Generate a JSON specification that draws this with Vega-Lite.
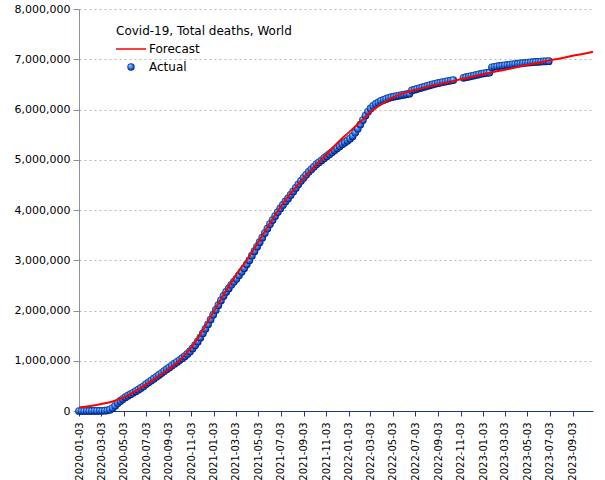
{
 "$schema": "https://vega.github.io/schema/vega-lite/v6.json",
 "width": 514, "height": 402,
 "autosize": {"type": "none"},
 "padding": {"left": 79, "top": 9, "right": 12, "bottom": 69},
 "background": "white",
 "config": {"view": {"stroke": null}, "font": "DejaVu Sans"},
 "datasets": {
  "forecast": [
   {"date":"2020-01-03","deaths":70000,"series":"Forecast"},
   {"date":"2020-02-03","deaths":100000,"series":"Forecast"},
   {"date":"2020-03-03","deaths":140000,"series":"Forecast"},
   {"date":"2020-04-03","deaths":190000,"series":"Forecast"},
   {"date":"2020-05-03","deaths":270000,"series":"Forecast"},
   {"date":"2020-06-03","deaths":390000,"series":"Forecast"},
   {"date":"2020-07-03","deaths":530000,"series":"Forecast"},
   {"date":"2020-08-03","deaths":680000,"series":"Forecast"},
   {"date":"2020-09-03","deaths":840000,"series":"Forecast"},
   {"date":"2020-10-03","deaths":1020000,"series":"Forecast"},
   {"date":"2020-11-03","deaths":1270000,"series":"Forecast"},
   {"date":"2020-12-03","deaths":1600000,"series":"Forecast"},
   {"date":"2021-01-03","deaths":1990000,"series":"Forecast"},
   {"date":"2021-02-03","deaths":2380000,"series":"Forecast"},
   {"date":"2021-03-03","deaths":2700000,"series":"Forecast"},
   {"date":"2021-04-03","deaths":3010000,"series":"Forecast"},
   {"date":"2021-05-03","deaths":3360000,"series":"Forecast"},
   {"date":"2021-06-03","deaths":3730000,"series":"Forecast"},
   {"date":"2021-07-03","deaths":4070000,"series":"Forecast"},
   {"date":"2021-08-03","deaths":4370000,"series":"Forecast"},
   {"date":"2021-09-03","deaths":4640000,"series":"Forecast"},
   {"date":"2021-10-03","deaths":4870000,"series":"Forecast"},
   {"date":"2021-11-03","deaths":5100000,"series":"Forecast"},
   {"date":"2021-12-03","deaths":5330000,"series":"Forecast"},
   {"date":"2022-01-03","deaths":5540000,"series":"Forecast"},
   {"date":"2022-02-03","deaths":5750000,"series":"Forecast"},
   {"date":"2022-03-03","deaths":5950000,"series":"Forecast"},
   {"date":"2022-04-03","deaths":6110000,"series":"Forecast"},
   {"date":"2022-05-03","deaths":6240000,"series":"Forecast"},
   {"date":"2022-06-03","deaths":6330000,"series":"Forecast"},
   {"date":"2022-07-03","deaths":6390000,"series":"Forecast"},
   {"date":"2022-08-03","deaths":6450000,"series":"Forecast"},
   {"date":"2022-09-03","deaths":6500000,"series":"Forecast"},
   {"date":"2022-10-03","deaths":6550000,"series":"Forecast"},
   {"date":"2022-11-03","deaths":6600000,"series":"Forecast"},
   {"date":"2022-12-03","deaths":6650000,"series":"Forecast"},
   {"date":"2023-01-03","deaths":6700000,"series":"Forecast"},
   {"date":"2023-02-03","deaths":6750000,"series":"Forecast"},
   {"date":"2023-03-03","deaths":6790000,"series":"Forecast"},
   {"date":"2023-04-03","deaths":6840000,"series":"Forecast"},
   {"date":"2023-05-03","deaths":6890000,"series":"Forecast"},
   {"date":"2023-06-03","deaths":6930000,"series":"Forecast"},
   {"date":"2023-07-03","deaths":6980000,"series":"Forecast"},
   {"date":"2023-08-03","deaths":7020000,"series":"Forecast"},
   {"date":"2023-09-03","deaths":7070000,"series":"Forecast"},
   {"date":"2023-10-03","deaths":7110000,"series":"Forecast"},
   {"date":"2023-10-28","deaths":7150000,"series":"Forecast"}
  ],
  "actual": [
   {"date":"2020-01-03","deaths":0},{"date":"2020-01-10","deaths":0},{"date":"2020-01-17","deaths":0},
   {"date":"2020-01-24","deaths":26},{"date":"2020-01-31","deaths":213},{"date":"2020-02-07","deaths":638},
   {"date":"2020-02-14","deaths":1383},{"date":"2020-02-21","deaths":2250},{"date":"2020-02-28","deaths":2870},
   {"date":"2020-03-06","deaths":3460},{"date":"2020-03-13","deaths":5430},{"date":"2020-03-20","deaths":11400},
   {"date":"2020-03-27","deaths":27000},{"date":"2020-04-03","deaths":59000},{"date":"2020-04-10","deaths":103000},
   {"date":"2020-04-17","deaths":158000},{"date":"2020-04-24","deaths":200000},{"date":"2020-05-01","deaths":238000},
   {"date":"2020-05-08","deaths":275000},{"date":"2020-05-15","deaths":305000},{"date":"2020-05-22","deaths":335000},
   {"date":"2020-05-29","deaths":362000},{"date":"2020-06-05","deaths":395000},{"date":"2020-06-12","deaths":425000},
   {"date":"2020-06-19","deaths":458000},{"date":"2020-06-26","deaths":492000},{"date":"2020-07-03","deaths":535000},
   {"date":"2020-07-10","deaths":570000},{"date":"2020-07-17","deaths":605000},{"date":"2020-07-24","deaths":642000},
   {"date":"2020-07-31","deaths":680000},{"date":"2020-08-07","deaths":718000},{"date":"2020-08-14","deaths":756000},
   {"date":"2020-08-21","deaths":794000},{"date":"2020-08-28","deaths":831000},{"date":"2020-09-04","deaths":868000},
   {"date":"2020-09-11","deaths":905000},{"date":"2020-09-18","deaths":941000},{"date":"2020-09-25","deaths":977000},
   {"date":"2020-10-02","deaths":1013000},{"date":"2020-10-09","deaths":1050000},{"date":"2020-10-16","deaths":1090000},
   {"date":"2020-10-23","deaths":1135000},{"date":"2020-10-30","deaths":1185000},{"date":"2020-11-06","deaths":1245000},
   {"date":"2020-11-13","deaths":1310000},{"date":"2020-11-20","deaths":1380000},{"date":"2020-11-27","deaths":1460000},
   {"date":"2020-12-04","deaths":1545000},{"date":"2020-12-11","deaths":1635000},{"date":"2020-12-18","deaths":1725000},
   {"date":"2020-12-25","deaths":1820000},{"date":"2021-01-01","deaths":1915000},{"date":"2021-01-08","deaths":2010000},
   {"date":"2021-01-15","deaths":2105000},{"date":"2021-01-22","deaths":2200000},{"date":"2021-01-29","deaths":2290000},
   {"date":"2021-02-05","deaths":2370000},{"date":"2021-02-12","deaths":2440000},{"date":"2021-02-19","deaths":2510000},
   {"date":"2021-02-26","deaths":2570000},{"date":"2021-03-05","deaths":2630000},{"date":"2021-03-12","deaths":2700000},
   {"date":"2021-03-19","deaths":2770000},{"date":"2021-03-26","deaths":2840000},{"date":"2021-04-02","deaths":2920000},
   {"date":"2021-04-09","deaths":3000000},{"date":"2021-04-16","deaths":3090000},{"date":"2021-04-23","deaths":3180000},
   {"date":"2021-04-30","deaths":3270000},{"date":"2021-05-07","deaths":3360000},{"date":"2021-05-14","deaths":3450000},
   {"date":"2021-05-21","deaths":3540000},{"date":"2021-05-28","deaths":3630000},{"date":"2021-06-04","deaths":3720000},
   {"date":"2021-06-11","deaths":3800000},{"date":"2021-06-18","deaths":3880000},{"date":"2021-06-25","deaths":3960000},
   {"date":"2021-07-02","deaths":4030000},{"date":"2021-07-09","deaths":4100000},{"date":"2021-07-16","deaths":4170000},
   {"date":"2021-07-23","deaths":4230000},{"date":"2021-07-30","deaths":4300000},{"date":"2021-08-06","deaths":4370000},
   {"date":"2021-08-13","deaths":4440000},{"date":"2021-08-20","deaths":4510000},{"date":"2021-08-27","deaths":4580000},
   {"date":"2021-09-03","deaths":4640000},{"date":"2021-09-10","deaths":4700000},{"date":"2021-09-17","deaths":4760000},
   {"date":"2021-09-24","deaths":4810000},{"date":"2021-10-01","deaths":4860000},{"date":"2021-10-08","deaths":4910000},
   {"date":"2021-10-15","deaths":4950000},{"date":"2021-10-22","deaths":4990000},{"date":"2021-10-29","deaths":5030000},
   {"date":"2021-11-05","deaths":5070000},{"date":"2021-11-12","deaths":5110000},{"date":"2021-11-19","deaths":5150000},
   {"date":"2021-11-26","deaths":5190000},{"date":"2021-12-03","deaths":5230000},{"date":"2021-12-10","deaths":5270000},
   {"date":"2021-12-17","deaths":5310000},{"date":"2021-12-24","deaths":5345000},{"date":"2021-12-31","deaths":5380000},
   {"date":"2022-01-07","deaths":5420000},{"date":"2022-01-14","deaths":5470000},{"date":"2022-01-21","deaths":5540000},
   {"date":"2022-01-28","deaths":5615000},{"date":"2022-02-04","deaths":5700000},{"date":"2022-02-11","deaths":5790000},
   {"date":"2022-02-18","deaths":5880000},{"date":"2022-02-25","deaths":5960000},{"date":"2022-03-04","deaths":6020000},
   {"date":"2022-03-11","deaths":6070000},{"date":"2022-03-18","deaths":6110000},{"date":"2022-03-25","deaths":6140000},
   {"date":"2022-04-01","deaths":6170000},{"date":"2022-04-08","deaths":6190000},{"date":"2022-04-15","deaths":6210000},
   {"date":"2022-04-22","deaths":6230000},{"date":"2022-04-29","deaths":6245000},{"date":"2022-05-06","deaths":6255000},
   {"date":"2022-05-13","deaths":6265000},{"date":"2022-05-20","deaths":6275000},{"date":"2022-05-27","deaths":6285000},
   {"date":"2022-06-03","deaths":6295000},{"date":"2022-06-10","deaths":6305000},{"date":"2022-06-17","deaths":6315000},
   {"date":"2022-06-24","deaths":6380000},{"date":"2022-07-01","deaths":6395000},{"date":"2022-07-08","deaths":6410000},
   {"date":"2022-07-15","deaths":6425000},{"date":"2022-07-22","deaths":6440000},{"date":"2022-07-29","deaths":6455000},
   {"date":"2022-08-05","deaths":6470000},{"date":"2022-08-12","deaths":6485000},{"date":"2022-08-19","deaths":6500000},
   {"date":"2022-08-26","deaths":6512000},{"date":"2022-09-02","deaths":6524000},{"date":"2022-09-09","deaths":6535000},
   {"date":"2022-09-16","deaths":6546000},{"date":"2022-09-23","deaths":6556000},{"date":"2022-09-30","deaths":6566000},
   {"date":"2022-10-07","deaths":6576000},{"date":"2022-10-14","deaths":6585000},
   {"date":"2022-11-11","deaths":6630000},{"date":"2022-11-18","deaths":6642000},{"date":"2022-11-25","deaths":6654000},
   {"date":"2022-12-02","deaths":6665000},{"date":"2022-12-09","deaths":6676000},{"date":"2022-12-16","deaths":6688000},
   {"date":"2022-12-23","deaths":6700000},{"date":"2022-12-30","deaths":6712000},{"date":"2023-01-06","deaths":6720000},
   {"date":"2023-01-13","deaths":6727000},{"date":"2023-01-20","deaths":6734000},{"date":"2023-01-27","deaths":6840000},
   {"date":"2023-02-03","deaths":6850000},{"date":"2023-02-10","deaths":6858000},{"date":"2023-02-17","deaths":6866000},
   {"date":"2023-02-24","deaths":6873000},{"date":"2023-03-03","deaths":6880000},{"date":"2023-03-10","deaths":6887000},
   {"date":"2023-03-17","deaths":6893000},{"date":"2023-03-24","deaths":6899000},{"date":"2023-03-31","deaths":6905000},
   {"date":"2023-04-07","deaths":6911000},{"date":"2023-04-14","deaths":6917000},{"date":"2023-04-21","deaths":6923000},
   {"date":"2023-04-28","deaths":6928000},{"date":"2023-05-05","deaths":6933000},{"date":"2023-05-12","deaths":6938000},
   {"date":"2023-05-19","deaths":6942000},{"date":"2023-05-26","deaths":6946000},{"date":"2023-06-02","deaths":6950000},
   {"date":"2023-06-09","deaths":6953000},{"date":"2023-06-16","deaths":6956000},{"date":"2023-06-23","deaths":6959000},
   {"date":"2023-06-30","deaths":6962000}
  ]
 },
 "encoding": {
  "x": {"field": "date", "type": "temporal",
   "scale": {"type": "utc", "domain": [{"year":2020,"month":1,"date":3,"utc":true},{"year":2023,"month":10,"date":28,"utc":true}]},
   "axis": {"title": null, "format": "%Y-%m-%d", "labelAngle": 270, "labelFontSize": 10, "labelFont": "DejaVu Sans", "labelColor": "#000000",
    "domainColor": "#1f3a78", "tickColor": "#1f3a78", "tickSize": 5, "labelPadding": 6, "grid": false, "labelOverlap": false, "labelFlush": false,
    "values": [
     {"year":2020,"month":1,"date":3,"utc":true},{"year":2020,"month":3,"date":3,"utc":true},{"year":2020,"month":5,"date":3,"utc":true},
     {"year":2020,"month":7,"date":3,"utc":true},{"year":2020,"month":9,"date":3,"utc":true},{"year":2020,"month":11,"date":3,"utc":true},
     {"year":2021,"month":1,"date":3,"utc":true},{"year":2021,"month":3,"date":3,"utc":true},{"year":2021,"month":5,"date":3,"utc":true},
     {"year":2021,"month":7,"date":3,"utc":true},{"year":2021,"month":9,"date":3,"utc":true},{"year":2021,"month":11,"date":3,"utc":true},
     {"year":2022,"month":1,"date":3,"utc":true},{"year":2022,"month":3,"date":3,"utc":true},{"year":2022,"month":5,"date":3,"utc":true},
     {"year":2022,"month":7,"date":3,"utc":true},{"year":2022,"month":9,"date":3,"utc":true},{"year":2022,"month":11,"date":3,"utc":true},
     {"year":2023,"month":1,"date":3,"utc":true},{"year":2023,"month":3,"date":3,"utc":true},{"year":2023,"month":5,"date":3,"utc":true},
     {"year":2023,"month":7,"date":3,"utc":true},{"year":2023,"month":9,"date":3,"utc":true}
    ]}},
  "y": {"field": "deaths", "type": "quantitative",
   "scale": {"domain": [0, 8000000], "nice": false},
   "axis": {"title": null, "format": ",.0f", "values": [0,1000000,2000000,3000000,4000000,5000000,6000000,7000000,8000000],
    "labelFontSize": 11, "labelFont": "DejaVu Sans", "labelColor": "#000000", "domainColor": "#8a8fae", "tickColor": "#8a8fae",
    "tickSize": 6, "labelPadding": 3, "grid": true, "gridColor": "#b8b8b8", "gridDash": [2, 3], "gridWidth": 1}}
 },
 "layer": [
  {"data": {"name": "actual"},
   "mark": {"type": "point", "filled": true, "size": 60, "opacity": 1, "strokeWidth": 0, "clip": false,
    "fill": {"gradient": "radial", "x1": 0.35, "y1": 0.3, "r1": 0, "x2": 0.5, "y2": 0.5, "r2": 0.55,
     "stops": [{"offset": 0, "color": "#e0f4ff"}, {"offset": 0.25, "color": "#55aaff"}, {"offset": 0.6, "color": "#1e6ae6"}, {"offset": 0.85, "color": "#0a2a8a"}, {"offset": 1, "color": "#000020"}]}}},
  {"data": {"name": "forecast"},
   "mark": {"type": "line", "strokeWidth": 2, "interpolate": "monotone"},
   "encoding": {"color": {"field": "series", "type": "nominal",
    "scale": {"domain": ["Forecast", "Actual"], "range": ["#ff0000", "#2b63c9"]},
    "legend": {"orient": "none", "legendX": 37, "legendY": 17, "columns": 1, "padding": 0,
     "title": "Covid-19, Total deaths, World", "titleFont": "DejaVu Sans", "titleFontSize": 12, "titleFontWeight": "normal", "titleColor": "#000000", "titlePadding": 3,
     "labelFont": "DejaVu Sans", "labelFontSize": 12, "labelColor": "#000000", "labelOffset": 12, "symbolOffset": 9,
     "symbolType": "stroke", "symbolSize": 900, "symbolStrokeWidth": 1.5, "clipHeight": 16, "rowPadding": 2,
     "encode": {"symbols": {"update": {
      "shape": {"signal": "datum.value === 'Forecast' ? 'stroke' : 'circle'"},
      "size": {"signal": "datum.value === 'Forecast' ? 900 : 55"},
      "strokeWidth": {"signal": "datum.value === 'Forecast' ? 1.5 : 0"},
      "opacity": {"value": 1},
      "fill": [{"test": "datum.value === 'Forecast'", "value": "transparent"},
       {"value": {"gradient": "radial", "x1": 0.35, "y1": 0.3, "r1": 0, "x2": 0.5, "y2": 0.5, "r2": 0.55,
        "stops": [{"offset": 0, "color": "#e0f4ff"}, {"offset": 0.25, "color": "#55aaff"}, {"offset": 0.6, "color": "#1e6ae6"}, {"offset": 0.85, "color": "#0a2a8a"}, {"offset": 1, "color": "#000020"}]}}]
     }}}}}}}
 ]
}
